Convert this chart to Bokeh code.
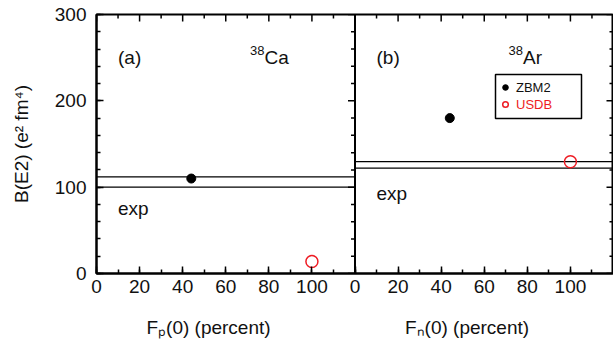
import numpy as np
from bokeh.plotting import figure
from bokeh.models import (Range1d, FixedTicker, Label, Span, Legend,
                          LegendItem, BoxAnnotation)
from bokeh.embed import file_html
from bokeh.resources import INLINE

# ---------------- data ----------------
panel_a_xmax = 120          # F_p(0) axis extent, panel (a)
panel_b_xmax = 120          # F_n(0) axis extent, panel (b)
mass_numbers = ["38", "38"]
elements = ["Ca", "Ar"]
panel_tags = ["(a)", "(b)"]
x_titles = ["Fₚ(0) (percent)", "Fₙ(0) (percent)"]
zbm2_F = [44, 44]            # percent
zbm2_BE2 = [110, 180]        # e^2 fm^4
usdb_F = [100, 100]
usdb_BE2 = [14, 129.5]
exp_low = [100, 122]
exp_high = [112, 129.5]
exp_label_y = [75, 93]
x_major = [0, 20, 40, 60, 80, 100]
x_minor_step = 10
y_major = [0, 100, 200, 300]
y_minor_step = 20
y_top = 300

FONT = "Liberation Sans"
RED = "#ee1c24"
INK = "#111111"

off = panel_a_xmax  # panel (b) starts where panel (a) ends
xend = off + panel_b_xmax
p = figure(width=613, height=341,
           x_range=Range1d(0, xend), y_range=Range1d(0, y_top),
           output_backend="svg", toolbar_location=None,
           min_border_left=96, min_border_right=0, min_border_top=14, min_border_bottom=68)
p.extra_x_ranges = {"b": Range1d(-off, panel_b_xmax)}
p.xgrid.visible = False
p.ygrid.visible = False
p.outline_line_color = "black"
p.outline_line_width = 2
p.background_fill_color = "white"
p.border_fill_color = "white"

xt_major = x_major + [off + v for v in x_major]
xt_minor_all = list(np.arange(0, xend + 0.1, x_minor_step))
y_minor_all = list(np.arange(0, y_top + 0.1, y_minor_step))
x_ticker = FixedTicker(ticks=xt_major, minor_ticks=xt_minor_all)
y_ticker = FixedTicker(ticks=y_major, minor_ticks=y_minor_all)
overrides = {off + v: str(v) for v in x_major}


def style_axis(ax):
    ax.axis_line_color = "black"
    ax.axis_line_width = 2
    ax.major_tick_in = 7
    ax.major_tick_out = 0
    ax.minor_tick_in = 4
    ax.minor_tick_out = 0
    ax.major_tick_line_width = 1.5
    ax.minor_tick_line_width = 1.5
    ax.major_tick_line_color = "black"
    ax.minor_tick_line_color = "black"
    ax.major_label_text_font = FONT
    ax.major_label_text_font_size = "19px"
    ax.major_label_text_color = INK


xb = p.xaxis[0]
xb.ticker = x_ticker
xb.major_label_overrides = overrides
style_axis(xb)
xb.major_label_standoff = 6

yl = p.yaxis[0]
yl.ticker = y_ticker
style_axis(yl)
yl.major_label_standoff = 10
yl.axis_label = "B(E2) (e² fm⁴)"
yl.axis_label_text_font = FONT
yl.axis_label_text_font_size = "19px"
yl.axis_label_text_font_style = "normal"
yl.axis_label_text_color = INK
yl.axis_label_standoff = 20

# mirrored inward ticks: top edge, panel boundary (panel a's right edge) and right edge
x_minor_only = [v for v in xt_minor_all if v not in xt_major]
y_minor_only = [v for v in y_minor_all if v not in y_major]
tick_kw = dict(length_units="screen", line_color="black", line_width=1.5)
p.ray(x=x_minor_only, y=y_top, length=4, angle=-np.pi / 2, **tick_kw)
p.ray(x=xt_major, y=y_top, length=7, angle=-np.pi / 2, **tick_kw)
for xe in (off, xend):
    p.ray(x=xe, y=y_minor_only, length=4, angle=np.pi, **tick_kw)
    p.ray(x=xe, y=y_major, length=7, angle=np.pi, **tick_kw)
p.add_layout(Span(location=off, dimension="height", line_color="black", line_width=2))

zbm2_r = []
usdb_r = []
for i, (rng, xmax) in enumerate([("default", panel_a_xmax), ("b", panel_b_xmax)]):
    # experimental band
    p.segment(x0=[0, 0], x1=[xmax, xmax], y0=[exp_low[i], exp_high[i]],
              y1=[exp_low[i], exp_high[i]], line_color="black", line_width=1.3,
              x_range_name=rng)
    zr = p.scatter(x=[zbm2_F[i]], y=[zbm2_BE2[i]], size=9, marker="circle",
                   fill_color="black", line_color="black", x_range_name=rng)
    ur = p.scatter(x=[usdb_F[i]], y=[usdb_BE2[i]], size=12, marker="circle",
                   fill_color=None, line_color=RED, line_width=1.5, x_range_name=rng)
    zbm2_r.append(zr)
    usdb_r.append(ur)

    p.add_layout(Label(x=10, y=250.5, text=panel_tags[i], x_range_name=rng,
                       text_font=FONT, text_font_size="19px", text_color=INK,
                       text_baseline="alphabetic"))
    p.add_layout(Label(x=78, y=258.5, text=mass_numbers[i], x_range_name=rng,
                       text_font=FONT, text_font_size="13px", text_color=INK,
                       text_align="right", text_baseline="alphabetic"))
    p.add_layout(Label(x=78, y=250.5, text=elements[i], x_range_name=rng,
                       text_font=FONT, text_font_size="19px", text_color=INK,
                       text_align="left", text_baseline="alphabetic"))
    p.add_layout(Label(x=10, y=exp_label_y[i], text="exp", x_range_name=rng,
                       text_font=FONT, text_font_size="19px", text_color=INK,
                       text_baseline="alphabetic"))
    # x-axis title of each panel (placed in the bottom side panel so it is not clipped)
    p.add_layout(Label(x=52, y=-62.5, x_range_name=rng, text=x_titles[i],
                       text_font=FONT, text_font_size="19px", text_color=INK,
                       text_align="center", text_baseline="alphabetic"), "below")

# legend (two one-row legends so each label keeps its own colour) inside a box
common = dict(border_line_color=None, background_fill_alpha=0, padding=0, margin=0,
              spacing=0, glyph_width=14, glyph_height=16, label_height=16,
              label_standoff=4, label_text_font=FONT, label_text_font_size="13px")
leg1 = Legend(items=[LegendItem(label="ZBM2", renderers=[zbm2_r[1]])],
              location=(402, 177.7), label_text_color=INK, **common)
leg2 = Legend(items=[LegendItem(label="USDB", renderers=[usdb_r[1]])],
              location=(402, 160.7), label_text_color=RED, **common)
p.add_layout(leg1)
p.add_layout(leg2)
p.add_layout(BoxAnnotation(left=495, right=581, top=74, bottom=118,
                           left_units="canvas", right_units="canvas",
                           top_units="canvas", bottom_units="canvas",
                           fill_alpha=0, line_color="black", line_width=1.5, line_alpha=1))

open("out.html", "w").write(file_html(p, INLINE))
